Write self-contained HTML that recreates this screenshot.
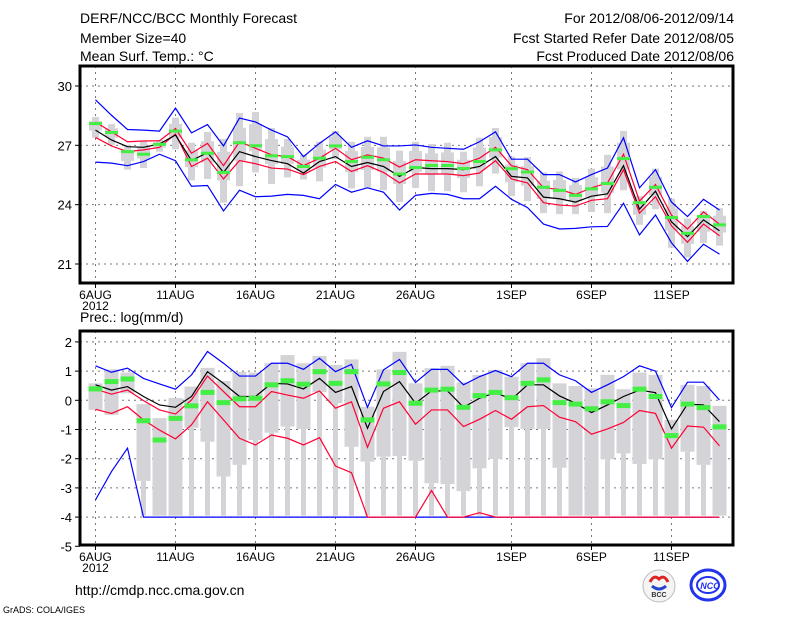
<!DOCTYPE html>
<html><head><meta charset="utf-8"><style>
html,body{margin:0;padding:0;background:#fff;width:800px;height:618px;overflow:hidden}
svg{display:block}
text{font-family:"Liberation Sans",sans-serif}
</style></head><body>
<svg id="chart" width="800" height="618" viewBox="0 0 800 618" xmlns="http://www.w3.org/2000/svg">
<g font-size="14" fill="#000">
<text x="80" y="23">DERF/NCC/BCC Monthly Forecast</text>
<text x="80" y="43">Member Size=40</text>
<text x="80" y="61">Mean Surf. Temp.: °C</text>
</g>
<g font-size="14" fill="#000" text-anchor="end">
<text x="734" y="23">For 2012/08/06-2012/09/14</text>
<text x="734" y="43">Fcst Started Refer Date 2012/08/05</text>
<text x="734" y="61">Fcst Produced Date 2012/08/06</text>
</g>
<text x="80" y="322" font-size="14">Prec.: log(mm/d)</text>
<text x="75" y="595" font-size="14">http://cmdp.ncc.cma.gov.cn</text>
<text x="3" y="613" font-size="9">GrADS: COLA/IGES</text>
<g>
<circle cx="659" cy="586" r="16" fill="#f4f4f4" stroke="#bbb"/>
<path d="M650 582 q4 -8 9 -3 q5 -5 9 3" fill="none" stroke="#d22" stroke-width="3"/>
<path d="M652 586 q7 6 14 0" fill="none" stroke="#2244cc" stroke-width="3"/>
<text x="659" y="597" font-size="7" text-anchor="middle" font-family="Liberation Serif,serif" font-weight="bold" fill="#333">BCC</text>
</g>
<g>
<ellipse cx="708" cy="585" rx="17" ry="15" fill="none" stroke="#2233ee" stroke-width="3"/>
<ellipse cx="708" cy="585" rx="11" ry="8" fill="none" stroke="#2233ee" stroke-width="2"/>
<text x="710" y="589" font-size="9" text-anchor="middle" font-weight="bold" font-style="italic" fill="#2233ee">NCC</text>
</g>
<g id="top"></g>
<g id="bot"></g>
</svg>
<script>
// shared
const dayLabels = ["6AUG","11AUG","16AUG","21AUG","26AUG","1SEP","6SEP","11SEP"];
const dayLabelIdx = [0,5,10,15,20,26,31,36];
// temperature panel data (°C)
const tTicks = [30,27,24,21];
const tBlueUp = [29.30,28.52,27.80,27.77,27.72,28.88,27.63,28.05,26.97,28.38,28.18,27.77,27.43,26.43,27.10,27.68,26.90,27.23,26.97,26.97,27.02,26.90,26.85,26.80,27.18,27.68,26.30,26.30,25.52,25.52,25.15,25.52,25.85,27.38,24.85,25.77,24.13,23.40,24.27,23.73];
const tBlueLo = [26.15,26.10,25.97,26.18,26.55,26.22,24.93,24.97,23.68,24.73,24.40,24.43,24.52,24.47,24.30,25.02,24.63,24.85,24.63,23.73,24.47,24.57,24.52,24.30,24.30,24.93,24.27,23.85,23.02,22.77,22.80,22.88,22.90,24.07,22.47,23.48,22.07,21.13,22.00,21.50];
const tRedUp = [28.18,27.68,27.18,27.22,27.23,27.85,26.60,27.10,25.97,27.18,26.85,26.52,26.43,25.97,26.35,26.85,26.27,26.52,26.35,25.90,26.27,26.22,26.18,26.07,26.35,26.90,25.97,25.77,24.85,24.77,24.52,24.85,25.10,26.55,24.18,25.02,23.47,22.77,23.63,23.02];
const tRedLo = [27.40,26.97,26.68,26.77,26.90,27.57,25.93,26.35,25.30,26.23,26.07,25.85,25.80,25.52,25.93,26.18,25.68,25.97,25.63,25.10,25.55,25.55,25.55,25.47,25.60,26.22,25.30,25.10,24.10,23.98,23.93,24.22,24.30,25.77,23.57,24.40,22.93,22.10,23.02,22.43];
const tMean = [27.77,27.27,26.93,26.90,27.07,27.52,26.23,26.63,25.63,26.68,26.43,26.23,26.07,25.60,26.18,26.43,25.93,26.13,25.93,25.43,25.88,25.82,25.82,25.77,25.93,26.43,25.43,25.35,24.38,24.30,24.13,24.43,24.55,25.97,23.77,24.68,23.13,22.38,23.23,22.68];
const tGreen = [28.10,27.65,26.68,26.55,27.05,27.72,26.27,26.60,25.63,27.13,26.98,26.47,26.43,25.93,26.35,26.97,26.18,26.40,26.27,25.55,25.88,25.98,25.98,25.83,26.18,26.77,25.82,25.65,24.88,24.72,24.47,24.80,25.07,26.33,24.10,24.88,23.35,22.55,23.40,22.98];
const tBarMax = [28.43,28.07,27.02,27.22,27.27,28.40,27.13,27.68,27.32,28.63,28.68,27.88,27.32,26.52,27.18,27.72,27.18,27.43,27.43,26.73,27.18,27.07,27.13,26.68,27.38,27.88,26.43,26.40,25.63,25.68,25.35,25.82,26.52,27.73,24.43,25.82,24.30,23.30,23.68,23.82];
const tBarMin = [27.38,27.02,25.77,25.85,26.68,26.80,25.23,25.30,24.10,24.93,25.63,25.05,25.38,25.27,25.18,26.30,24.82,24.85,24.73,24.13,24.85,24.68,24.68,24.63,24.93,25.57,24.43,24.18,23.57,23.52,23.52,23.63,23.57,24.73,22.98,23.77,21.82,21.33,22.07,21.93];
// precipitation panel data (log mm/d)
const pTicks = [2,1,0,-1,-2,-3,-4,-5];
const pBlueUp = [1.18,0.96,1.10,0.75,0.56,0.38,0.87,1.67,1.27,0.83,0.83,1.27,1.27,1.06,1.44,0.98,1.23,-0.24,1.04,1.40,0.61,1.06,1.06,0.53,0.81,1.02,0.81,1.27,1.27,0.87,0.67,0.27,0.53,0.81,1.18,1.00,-0.25,0.62,0.62,0.01];
const pBlueLo = [-3.41,-2.44,-1.64,-4,-4,-4,-4,-4,-4,-4,-4,-4,-4,-4,-4,-4,-4,-4,-4,-4,-4,-4,-4,-4,-4,-4,-4,-4,-4,-4,-4,-4,-4,-4,-4,-4,-4,-4,-4,-4];
const pRedUp = [0.38,0.21,0.35,-0.01,-0.33,-0.47,0.01,0.83,0.30,-0.22,-0.22,0.30,0.18,0.07,0.32,-0.27,-0.05,-1.61,-0.27,-0.05,-0.82,-0.33,-0.33,-0.90,-0.65,-0.35,-0.65,-0.22,-0.18,-0.58,-0.73,-1.16,-0.98,-0.76,-0.35,-0.45,-1.64,-0.88,-0.92,-1.56];
const pRedLo = [-0.31,-0.45,-0.22,-0.67,-1.02,-1.32,-0.84,-0.05,-0.67,-1.30,-1.53,-1.19,-1.30,-1.53,-1.28,-2.25,-2.48,-4,-4,-4,-4,-3.09,-4,-4,-3.85,-4,-4,-4,-4,-4,-4,-4,-4,-4,-4,-4,-4,-4,-4,-4];
const pMean = [0.53,0.35,0.47,0.13,-0.16,-0.24,0.13,0.98,0.58,0.13,0.13,0.58,0.56,0.39,0.75,0.27,0.47,-0.96,0.30,0.64,-0.10,0.32,0.32,-0.24,0.07,0.27,0.03,0.53,0.53,0.15,-0.10,-0.42,-0.16,0.13,0.35,0.26,-0.98,-0.13,-0.16,-0.73];
const pGreen = [0.39,0.64,0.73,-0.70,-1.36,-0.62,-0.19,0.27,-0.08,0.05,0.07,0.53,0.67,0.55,0.98,0.58,0.98,-0.67,0.56,0.95,-0.10,0.35,0.38,-0.24,0.16,0.27,0.09,0.58,0.70,-0.08,-0.13,-0.29,-0.05,-0.18,0.38,0.13,-1.21,-0.13,-0.25,-0.91];
const pBarMax = [0.58,1.06,0.95,-0.13,-0.61,0.08,0.47,1.11,0.66,0.97,0.95,1.27,1.55,1.27,1.52,1.21,1.40,-0.22,1.06,1.66,0.58,1.10,1.18,0.61,0.87,1.04,0.81,1.27,1.44,0.58,0.49,0.41,0.87,0.38,0.95,0.87,-0.67,0.53,0.49,-0.19];
const pBarMid = [-0.33,-0.50,0.24,-2.76,-3.95,-3.95,-0.94,-1.42,-2.61,-2.21,-1.36,-1.11,-0.90,-0.98,0.28,-0.10,-1.59,-2.10,-1.93,-1.91,-2.07,-2.84,-2.87,-3.11,-2.33,-2.01,-0.92,-0.98,-0.98,-2.31,-3.95,-3.95,-2.02,-1.82,-2.18,-2.02,-3.95,-1.76,-2.21,-3.95];
const pBarMin = [-0.33,-0.50,0.24,-3.95,-3.95,-3.95,-3.95,-3.95,-3.95,-3.95,-3.95,-3.95,-3.95,-3.95,-3.95,-3.95,-3.95,-3.95,-3.95,-3.95,-3.95,-3.95,-3.95,-3.95,-3.95,-3.95,-3.95,-3.95,-3.95,-3.95,-3.95,-3.95,-3.95,-3.95,-3.95,-3.95,-3.95,-3.95,-3.95,-3.95];

const NS="http://www.w3.org/2000/svg";
function mk(parent,tag,attrs){const e=document.createElementNS(NS,tag);for(const k in attrs)e.setAttribute(k,attrs[k]);parent.appendChild(e);return e;}
const xDay = i => 95.5 + 16*i;

function panel(g, cfg){
  const {top,bottom,yv,ticks,L,R} = cfg;
  // gridlines
  ticks.forEach(t=>{
    const y=yv(t);
    if(y>top+1 && y<bottom-1){
      const gl=mk(g,'line',{x1:L,x2:R,y1:y,y2:y,stroke:'#777','stroke-dasharray':'2,4','stroke-width':1});
      
      
    }
    const tk=mk(g,'line',{x1:L-5,x2:L,y1:y,y2:y,stroke:'#000','stroke-width':1});
    
    
    const tx=mk(g,'text',{x:L-8,y:y+5,'font-size':13,'text-anchor':'end'});
    tx.textContent=t;
    
    
  });
  dayLabelIdx.forEach((d,k)=>{
    const x=xDay(d);
    const gl=mk(g,'line',{x1:x,x2:x,y1:top,y2:bottom,stroke:'#777','stroke-dasharray':'2,4','stroke-width':1});
    
    
    const tk=mk(g,'line',{x1:x,x2:x,y1:bottom,y2:bottom+5,stroke:'#000'});
    
    
    const tx=mk(g,'text',{x:x,y:bottom+16,'font-size':12,'text-anchor':'middle'});
    tx.textContent=dayLabels[k];
    
    
  });
  const yr=mk(g,'text',{x:xDay(0),y:bottom+27,'font-size':12,'text-anchor':'middle'});
  yr.textContent='2012';
  
  
}
function line(g,arr,yv,color,name){
  const pts=arr.map((v,i)=>xDay(i)+','+yv(v)).join(' ');
  const p=mk(g,'polyline',{points:pts,fill:'none',stroke:color,'stroke-width':1.2});
  
  
}
function frame(g,L,top,R,bottom){
  const f=mk(g,'rect',{x:L,y:top,width:R-L,height:bottom-top,fill:'none',stroke:'#000','stroke-width':3});
  
  
}

// ---- Top panel ----
(function(){
  const g=document.getElementById('top');
  const L=80,R=733,top=66,bottom=283;
  const yv=v=>264-(v-21)*19.78;
  panel(g,{top,bottom,yv,ticks:tTicks,L,R});
  tBarMax.forEach((mx,i)=>{
    const mn=tBarMin[i];
    const w=mk(g,'rect',{x:xDay(i)-3.5,y:yv(mx),width:7,height:yv(mn)-yv(mx),fill:'#d3d3d8'});
    
    
    const q3=mx-(mx-mn)*0.2, q1=mn+(mx-mn)*0.35;
    const b=mk(g,'rect',{x:xDay(i)-6.5,y:yv(q3),width:13,height:yv(q1)-yv(q3),fill:'#d3d3d8'});
    
    
  });
  line(g,tBlueUp,yv,'#0000ff','max-line');
  line(g,tBlueLo,yv,'#0000ff','min-line');
  line(g,tRedUp,yv,'#ff0033','upper-quantile-line');
  line(g,tRedLo,yv,'#ff0033','lower-quantile-line');
  line(g,tMean,yv,'#000000','ensemble-mean-line');
  tGreen.forEach((v,i)=>{
    const r=mk(g,'rect',{x:xDay(i)-6.5,y:yv(v)-1.5,width:13,height:3,fill:'#44ee44'});
    
    
  });
  frame(g,L,top,R,bottom);
})();

// ---- Bottom panel ----
(function(){
  const g=document.getElementById('bot');
  const L=80,R=733,top=331,bottom=545;
  const yv=v=>400.3-v*29.2;
  panel(g,{top,bottom,yv,ticks:pTicks,L,R});
  pBarMax.forEach((mx,i)=>{
    const w=mk(g,'rect',{x:xDay(i)-2.5,y:yv(pBarMid[i]),width:5,height:Math.max(0,yv(pBarMin[i])-yv(pBarMid[i])),fill:'#d3d3d8'});
    
    
    const b=mk(g,'rect',{x:xDay(i)-7,y:yv(mx),width:14,height:yv(pBarMid[i])-yv(mx),fill:'#d3d3d8'});
    
    
  });
  line(g,pBlueUp,yv,'#0000ff','max-line');
  line(g,pBlueLo,yv,'#0000ff','min-line');
  line(g,pRedUp,yv,'#ff0033','upper-quantile-line');
  line(g,pRedLo,yv,'#ff0033','lower-quantile-line');
  line(g,pMean,yv,'#000000','ensemble-mean-line');
  pGreen.forEach((v,i)=>{
    const r=mk(g,'rect',{x:xDay(i)-7,y:yv(v)-2.5,width:14,height:5,fill:'#44ee44'});
    
    
  });
  frame(g,L,top,R,bottom);
})();
</script>
</body></html>
